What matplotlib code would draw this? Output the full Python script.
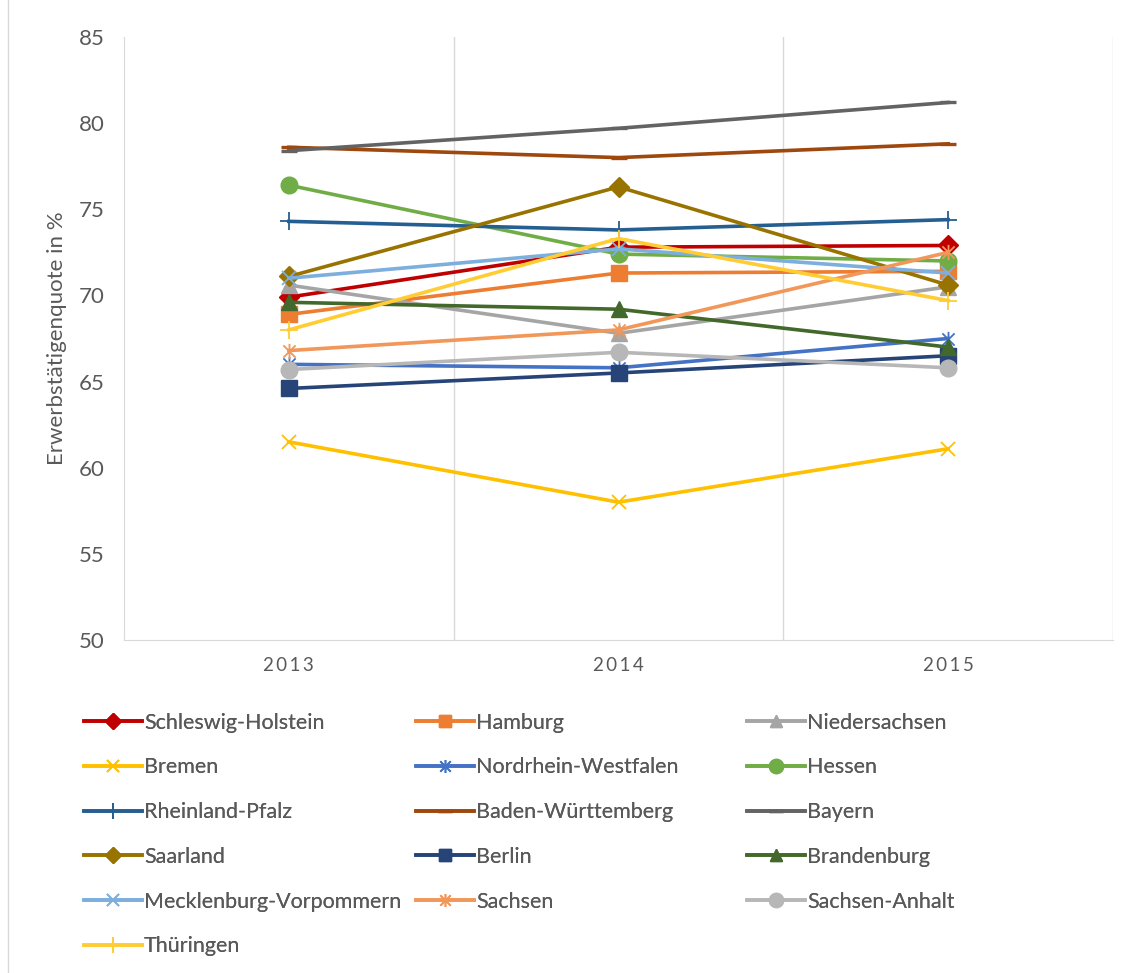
import matplotlib
matplotlib.use("Agg")
import matplotlib.pyplot as plt
from matplotlib.path import Path

plt.rcParams["font.family"] = ["Lato", "DejaVu Sans"]

years = ["2013", "2014", "2015"]

states = [
    "Schleswig-Holstein", "Hamburg", "Niedersachsen",
    "Bremen", "Nordrhein-Westfalen", "Hessen",
    "Rheinland-Pfalz", "Baden-Württemberg", "Bayern",
    "Saarland", "Berlin", "Brandenburg",
    "Mecklenburg-Vorpommern", "Sachsen", "Sachsen-Anhalt",
    "Thüringen",
]

schleswig_holstein = [69.9, 72.8, 72.9]
hamburg = [68.9, 71.3, 71.4]
niedersachsen = [70.6, 67.8, 70.5]
bremen = [61.5, 58.0, 61.1]
nordrhein_westfalen = [66.0, 65.8, 67.5]
hessen = [76.4, 72.4, 72.0]
rheinland_pfalz = [74.3, 73.8, 74.4]
baden_wuerttemberg = [78.6, 78.0, 78.8]
bayern = [78.4, 79.7, 81.2]
saarland = [71.1, 76.3, 70.6]
berlin = [64.6, 65.5, 66.5]
brandenburg = [69.6, 69.2, 67.0]
mecklenburg_vorpommern = [71.0, 72.7, 71.3]
sachsen = [66.8, 68.0, 72.5]
sachsen_anhalt = [65.7, 66.7, 65.8]
thueringen = [68.0, 73.3, 69.7]

values = [
    schleswig_holstein, hamburg, niedersachsen,
    bremen, nordrhein_westfalen, hessen,
    rheinland_pfalz, baden_wuerttemberg, bayern,
    saarland, berlin, brandenburg,
    mecklenburg_vorpommern, sachsen, sachsen_anhalt,
    thueringen,
]

# star marker: an x crossed by a vertical stroke
star = Path(
    [(-1, -1), (1, 1), (-1, 1), (1, -1), (0, -1.25), (0, 1.25)],
    [Path.MOVETO, Path.LINETO, Path.MOVETO, Path.LINETO, Path.MOVETO, Path.LINETO],
)

styles = [
    ("#C00000", "D", 10),
    ("#ED7D31", "s", 11),
    ("#A5A5A5", "^", 11),
    ("#FFC000", "x", 10),
    ("#4472C4", star, 11),
    ("#70AD47", "o", 12),
    ("#255E91", "+", 13),
    ("#9E480E", "_", 12),
    ("#636363", "_", 12),
    ("#997300", "D", 10),
    ("#264478", "s", 11),
    ("#43682B", "^", 11),
    ("#7CAFDD", "x", 10),
    ("#F1975A", star, 11),
    ("#B7B7B7", "o", 12),
    ("#FFCD33", "+", 13),
]

fig = plt.figure(figsize=(11.34, 9.73), dpi=100)
ax = fig.add_axes([124 / 1134, 1 - 640 / 973, (1113 - 124) / 1134, (640 - 37) / 973])

x = list(range(len(years)))
handles = []
for name, vals, (color, marker, ms) in zip(states, values, styles):
    open_marker = marker in ("x", "+", "_") or marker is star
    (ln,) = ax.plot(
        x, vals,
        color=color, lw=2.6, marker=marker, markersize=ms,
        markerfacecolor=color, markeredgecolor=color,
        markeredgewidth=2.4 if marker == "_" else (1.3 if open_marker else 1),
        label=name,
    )
    handles.append(ln)

ax.set_xlim(-0.5, 2.5)
ax.set_ylim(50, 85)
ax.set_yticks(range(50, 86, 5))
ax.set_xticks(x)
# year labels are set with a little letter spacing
ax.set_xticklabels(["\u2009".join(y) for y in years])
ax.set_xticks([0.5, 1.5, 2.5], minor=True)
ax.grid(axis="x", which="minor", color="#D9D9D9", lw=1)
ax.tick_params(which="both", length=0)
ax.tick_params(axis="y", labelsize=16, labelcolor="#595959", pad=14)
ax.tick_params(axis="x", labelsize=13.5, labelcolor="#595959", pad=12)
for side in ("top", "right"):
    ax.spines[side].set_visible(False)
for side in ("left", "bottom"):
    ax.spines[side].set_color("#D9D9D9")
ax.set_ylabel("Erwerbstätigenquote in %", fontsize=16, color="#595959")
ax.yaxis.set_label_coords(-0.058, 0.5)

# chart frame edge on the left
fig.add_artist(plt.Line2D([8 / 1134, 8 / 1134], [0, 1], color="#D9D9D9", lw=1))

# legend laid out row by row in three columns
col_x = [75 / 1134, 407 / 1134, 738 / 1134]
for c in range(3):
    idx = list(range(c, len(states), 3))
    leg = fig.legend(
        [handles[i] for i in idx], [states[i] for i in idx],
        loc="upper left", bbox_to_anchor=(col_x[c], 1 - 704 / 973),
        frameon=False, fontsize=15.5, labelcolor="#595959",
        handlelength=2.7, handletextpad=0.1, labelspacing=1.15,
        markerscale=0.85, borderaxespad=0,
    )
    fig.add_artist(leg)

fig.savefig("out.png", dpi=100)
